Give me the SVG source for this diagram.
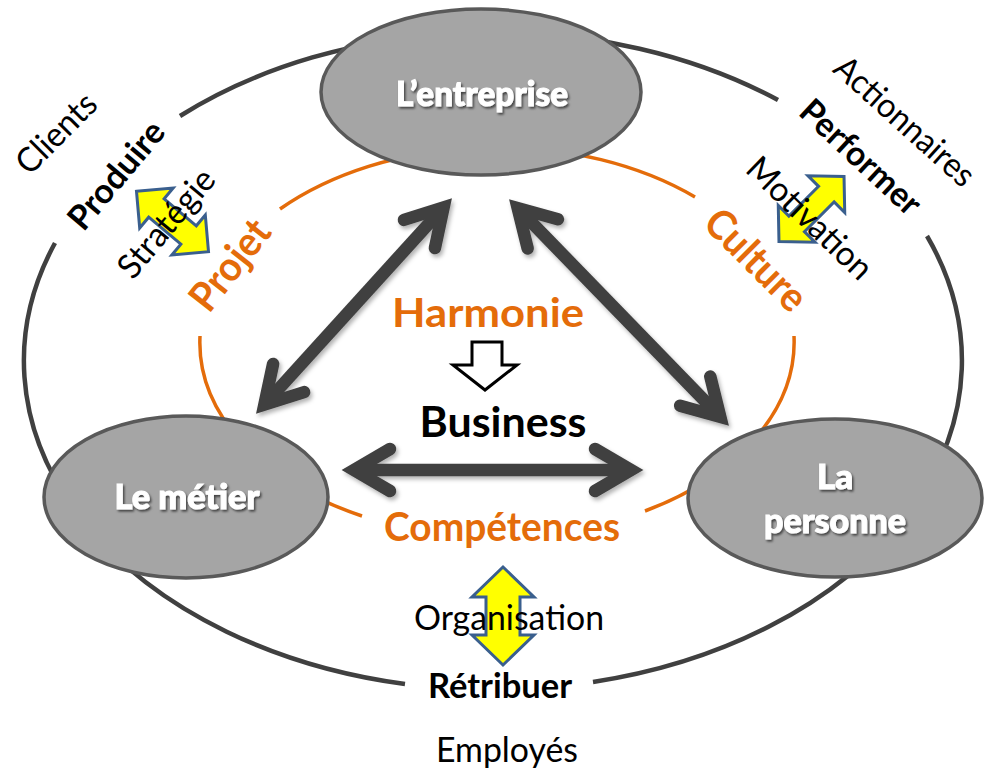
<svg xmlns="http://www.w3.org/2000/svg" width="992" height="768" viewBox="0 0 992 768">
<defs>
<style>
.ring{fill:none;stroke:#404040;stroke-width:4.5}
.orng{fill:none;stroke:#E46C0A;stroke-width:3.5}
.node{fill:#A5A5A5;stroke:#595959;stroke-width:3.5}
.nlab{font-family:Lato,"Liberation Sans",sans-serif;font-weight:900;font-size:35px;fill:#fff;stroke:#fff;stroke-width:1;text-anchor:middle;filter:url(#ts)}
.reg{font-family:Lato,"Liberation Sans",sans-serif;font-size:34px;fill:#000;text-anchor:middle}
.bld{font-family:Lato,"Liberation Sans",sans-serif;font-weight:bold;font-size:34px;fill:#000;text-anchor:middle}
.org{font-family:Lato,"Liberation Sans",sans-serif;font-weight:bold;font-size:41px;fill:#E46C0A;text-anchor:middle}
.big{font-family:Lato,"Liberation Sans",sans-serif;font-weight:bold;font-size:42px;fill:#000;text-anchor:middle}
.yel{fill:#FFFF00;stroke:#3A5F8E;stroke-width:3;stroke-linejoin:miter}
.shaft{fill:none;stroke:#404040;stroke-width:12.5}
.head{fill:none;stroke:#404040;stroke-width:12.5;stroke-linecap:round;stroke-linejoin:miter;stroke-miterlimit:6}
</style>
<filter id="ts" x="-20%" y="-40%" width="140%" height="180%"><feDropShadow dx="1.5" dy="2" stdDeviation="1.2" flood-color="#000" flood-opacity="0.6"/></filter>
<filter id="as" x="-20%" y="-20%" width="140%" height="140%"><feDropShadow dx="2" dy="3" stdDeviation="2" flood-color="#000" flood-opacity="0.3"/></filter>
</defs>
<rect width="992" height="768" fill="#fff"/>

<g id="outer-ring">
<path class="ring" d="M180,116 A469,329 0 0 1 778,100"/>
<path class="ring" d="M927,236 A469,329 0 0 1 593,682"/>
<path class="ring" d="M405,684 A469,329 0 0 1 55,243"/>
</g>

<g id="inner-ring">
<path class="orng" d="M280,209 A297,195 0 0 1 695,197"/>
<path class="orng" d="M794,336 A297,195 0 0 1 645,511"/>
<path class="orng" d="M362,516 A297,195 0 0 1 200,336"/>
</g>

<g id="yellow-arrows">
<path class="yel" transform="translate(172.5,221.5) rotate(40)" d="M-47,0 L-21,-26 L-21,-12 L21,-12 L21,-26 L47,0 L21,26 L21,12 L-21,12 L-21,26 Z"/>
<path class="yel" transform="translate(811.5,209) rotate(-45)" d="M-46,0 L-21,-26 L-21,-11 L21,-11 L21,-26 L46,0 L21,26 L21,11 L-21,11 L-21,26 Z"/>
<path class="yel" d="M503,567 L534,597 L520,597 L520,635 L534,635 L503,665 L472,635 L486,635 L486,597 L472,597 Z"/>
</g>

<g id="node-entreprise">
<ellipse class="node" cx="481" cy="92" rx="160" ry="83"/>
<text class="nlab" x="482" y="106" textLength="172" lengthAdjust="spacingAndGlyphs">L’entreprise</text>
</g>
<g id="node-metier">
<ellipse class="node" cx="186" cy="497" rx="142" ry="81"/>
<text class="nlab" x="187" y="509" textLength="145" lengthAdjust="spacingAndGlyphs">Le métier</text>
</g>
<g id="node-personne">
<ellipse class="node" cx="835" cy="498" rx="147" ry="79"/>
<text class="nlab" x="835" y="489">La</text>
<text class="nlab" x="835" y="533" textLength="142" lengthAdjust="spacingAndGlyphs">personne</text>
</g>

<g id="connectors" filter="url(#as)">
<path class="shaft" d="M443.6,207.4 L264.4,404.6"/>
<path class="head" d="M434.9,248.1 L443.6,207.4 L403.9,219.9"/>
<path class="head" d="M304.1,392.1 L264.4,404.6 L273.1,363.9"/>
<path class="shaft" d="M517.7,208.1 L720.3,416.9"/>
<path class="head" d="M557.9,219.3 L517.7,208.1 L527.7,248.5"/>
<path class="head" d="M710.3,376.5 L720.3,416.9 L680.1,405.7"/>
<path class="shaft" d="M354,470 L631,470"/>
<path class="head" d="M390,449 L354,470 L390,491"/>
<path class="head" d="M595,449 L631,470 L595,491"/>
</g>

<g id="center">
<text class="org" x="488" y="327" textLength="192" lengthAdjust="spacingAndGlyphs">Harmonie</text>
<path d="M472,342 L502,342 L502,365 L517,365 L485,390 L453,365 L472,365 Z" fill="#fff" stroke="#000" stroke-width="3" stroke-linejoin="miter"/>
<text class="big" x="503" y="437" textLength="167" lengthAdjust="spacingAndGlyphs">Business</text>
<text class="org" x="502" y="541" textLength="236" lengthAdjust="spacingAndGlyphs">Compétences</text>
</g>

<g id="labels">
<g transform="translate(56,133) rotate(-45)"><text class="reg" x="0" y="12" textLength="99" lengthAdjust="spacingAndGlyphs">Clients</text></g>
<g transform="translate(116,175) rotate(-50)"><text class="bld" x="0" y="12" textLength="130" lengthAdjust="spacingAndGlyphs">Produire</text></g>
<g transform="translate(166,223) rotate(-50)"><text class="reg" x="0" y="12" textLength="131" lengthAdjust="spacingAndGlyphs">Stratégie</text></g>
<g transform="translate(230,265) rotate(-52)"><text class="org" x="0" y="14" textLength="104" lengthAdjust="spacingAndGlyphs">Projet</text></g>
<g transform="translate(905,121) rotate(42)"><text class="reg" x="0" y="12" textLength="176" lengthAdjust="spacingAndGlyphs">Actionnaires</text></g>
<g transform="translate(861,157) rotate(43)"><text class="bld" x="0" y="12" textLength="152" lengthAdjust="spacingAndGlyphs">Performer</text></g>
<g transform="translate(810,218) rotate(44)"><text class="reg" x="0" y="12" textLength="160" lengthAdjust="spacingAndGlyphs">Motivation</text></g>
<g transform="translate(756,260) rotate(45)"><text class="org" x="0" y="14" textLength="126" lengthAdjust="spacingAndGlyphs">Culture</text></g>
<text class="reg" x="509" y="630" textLength="190" lengthAdjust="spacingAndGlyphs">Organisation</text>
<text class="bld" x="500" y="698" textLength="144" lengthAdjust="spacingAndGlyphs">Rétribuer</text>
<text class="reg" x="507" y="762" textLength="142" lengthAdjust="spacingAndGlyphs">Employés</text>
</g>
</svg>
